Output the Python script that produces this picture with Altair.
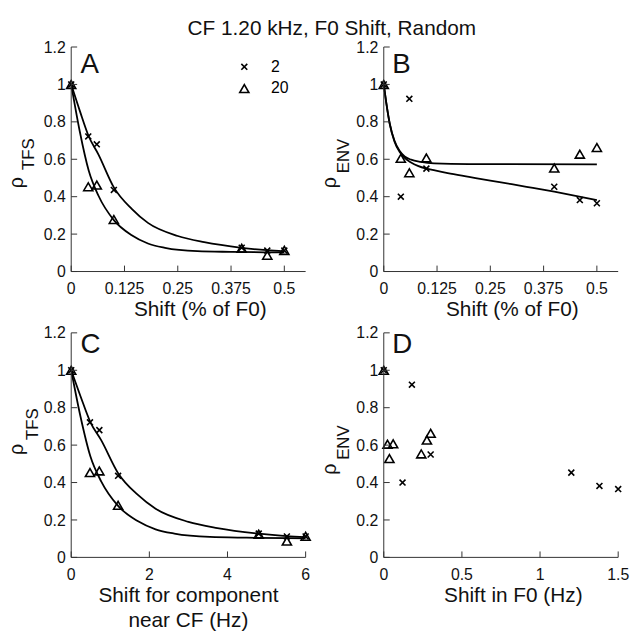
import altair as alt
import pandas as pd

FONT = "Liberation Sans"
SERIES = ["2", "20"]
XPATH = "M-1,-1L1,1M1,-1L-1,1"

# ---- data ----
shift_pct = [0, 0.04, 0.06, 0.1, 0.4, 0.46, 0.5]          # panels A, B (% of F0)
shift_cf_hz = [0, 0.48, 0.72, 1.2, 4.8, 5.52, 6]          # panel C (Hz)
shift_f0_2 = [0, 0.12, 0.18, 0.3, 1.2, 1.38, 1.5]          # panel D, series 2 (Hz)
shift_f0_20 = [0, 0.024, 0.036, 0.06, 0.24, 0.276, 0.3]    # panel D, series 20 (Hz)
rho_tfs_2 = [1, 0.722, 0.68, 0.436, 0.127, 0.112, 0.112]
rho_tfs_20 = [1, 0.453, 0.462, 0.278, 0.124, 0.087, 0.113]
rho_env_2 = [1, 0.40, 0.923, 0.55, 0.453, 0.382, 0.365]
rho_env_20 = [1, 0.605, 0.528, 0.607, 0.553, 0.627, 0.663]

# fitted curves
fit_tfs_2_x = [0, 0.02, 0.041, 0.064, 0.1, 0.142, 0.18, 0.25, 0.312, 0.4, 0.459, 0.5]
fit_tfs_2_hz = [0, 0.24, 0.49, 0.77, 1.2, 1.7, 2.16, 3.0, 3.74, 4.8, 5.51, 6]
fit_tfs_2_y = [1, 0.86, 0.723, 0.625, 0.45, 0.335, 0.26, 0.19, 0.157, 0.127, 0.114, 0.108]
fit_tfs_20_x = [0, 0.02, 0.041, 0.064, 0.1, 0.142, 0.18, 0.22, 0.296, 0.374, 0.5]
fit_tfs_20_hz = [0, 0.24, 0.49, 0.77, 1.2, 1.7, 2.16, 2.64, 3.55, 4.49, 6]
fit_tfs_20_y = [1, 0.75, 0.54, 0.405, 0.275, 0.194, 0.15, 0.127, 0.109, 0.105, 0.102]
fit_env_2_x = [0, 0.006, 0.014, 0.025, 0.037, 0.049, 0.064, 0.08, 0.1, 0.12, 0.15, 0.2, 0.25, 0.3, 0.35, 0.4, 0.45, 0.5]
fit_env_2_y = [1, 0.9, 0.79, 0.695, 0.64, 0.607, 0.583, 0.565, 0.55, 0.54, 0.526, 0.506, 0.486, 0.467, 0.447, 0.427, 0.405, 0.381]
fit_env_20_x = [0, 0.006, 0.014, 0.025, 0.037, 0.049, 0.064, 0.087, 0.118, 0.2, 0.5]
fit_env_20_y = [1, 0.9, 0.79, 0.70, 0.645, 0.615, 0.598, 0.586, 0.578, 0.574, 0.573]

# axis ticks and their labels
Y_TICKS = [0, 0.2, 0.4, 0.6, 0.8, 1, 1.2]
Y_LABELS = ["0", "0.2", "0.4", "0.6", "0.8", "1", "1.2"]
PCT_TICKS = [0, 0.125, 0.25, 0.375, 0.5]
PCT_LABELS = ["0", "0.125", "0.25", "0.375", "0.5"]
HZ_CF_TICKS = [0, 2, 4, 6]
HZ_CF_LABELS = ["0", "2", "4", "6"]
HZ_F0_TICKS = [0, 0.5, 1, 1.5]
HZ_F0_LABELS = ["0", "0.5", "1", "1.5"]
Y_DOMAIN = [0, 1.2]

W, H = 237, 227
TICK = 6
AX = "#333"
TXT = "#111"


def frame(x2, y2, x20, y20):
    return pd.DataFrame({
        "x": list(x2) + list(x20),
        "y": list(y2) + list(y20),
        "series": ["2"] * len(x2) + ["20"] * len(x20),
    })


LEG = alt.Legend(
    title=None, orient="none", legendX=167, legendY=12, padding=0,
    labelFont=FONT, labelFontSize=16, labelColor="black", labelOffset=19,
    rowPadding=6, symbolStrokeWidth=1.6, symbolStrokeColor="black",
)


def panel(pdf, cdf, xdom, xticks, xlabels, xtitle_lines, title_x, texts):
    xs = alt.Scale(domain=xdom, nice=False, zero=False)
    ys = alt.Scale(domain=Y_DOMAIN, nice=False)
    layers = [
        alt.Chart(pdf).mark_point(filled=False, color="black", strokeWidth=1.6, opacity=1).encode(
            x=alt.X("x:Q", scale=xs, axis=None),
            y=alt.Y("y:Q", scale=ys, axis=None),
            shape=alt.Shape("series:N", scale=alt.Scale(domain=SERIES, range=[XPATH, "triangle-up"]), legend=LEG),
            size=alt.Size("series:N", scale=alt.Scale(domain=SERIES, range=[36, 85]), legend=LEG),
        )
    ]
    if cdf is not None:
        layers.append(
            alt.Chart(cdf).mark_line(color="black", strokeWidth=1.8, interpolate="monotone").encode(
                x=alt.X("x:Q", scale=xs, axis=None),
                y=alt.Y("y:Q", scale=ys, axis=None),
                detail="series:N",
            )
        )
    # axis lines (span the scale domains)
    layers.append(
        alt.Chart(pd.DataFrame({"x": [xdom[0]], "x2": [xdom[1]]})).mark_rule(color=AX, strokeWidth=1).encode(
            x=alt.X("x:Q", scale=xs, axis=None), x2="x2:Q", y=alt.value(H)
        )
    )
    layers.append(
        alt.Chart(pd.DataFrame({"y": [Y_DOMAIN[0]], "y2": [Y_DOMAIN[1]]})).mark_rule(color=AX, strokeWidth=1).encode(
            y=alt.Y("y:Q", scale=ys, axis=None), y2="y2:Q", x=alt.value(0)
        )
    )
    # inward tick marks
    layers.append(
        alt.Chart(pd.DataFrame({"x": xticks})).mark_rule(color=AX, strokeWidth=1).encode(
            x=alt.X("x:Q", scale=xs, axis=None), y=alt.value(H), y2=alt.value(H - TICK)
        )
    )
    layers.append(
        alt.Chart(pd.DataFrame({"y": Y_TICKS})).mark_rule(color=AX, strokeWidth=1).encode(
            y=alt.Y("y:Q", scale=ys, axis=None), x=alt.value(0), x2=alt.value(TICK)
        )
    )
    # tick labels
    layers.append(
        alt.Chart(pd.DataFrame({"x": xticks, "label": xlabels})).mark_text(
            font=FONT, fontSize=16, color=TXT, align="center", baseline="alphabetic"
        ).encode(x=alt.X("x:Q", scale=xs, axis=None), y=alt.value(H + 22.5), text="label:N")
    )
    layers.append(
        alt.Chart(pd.DataFrame({"y": Y_TICKS, "label": Y_LABELS})).mark_text(
            font=FONT, fontSize=16, color=TXT, align="right", baseline="alphabetic", dy=5.7
        ).encode(y=alt.Y("y:Q", scale=ys, axis=None), x=alt.value(-5.5), text="label:N")
    )
    one = pd.DataFrame({"k": [0]})
    all_texts = list(texts)
    for i, line in enumerate(xtitle_lines):
        all_texts.append((line, title_x, H + 45 + 25 * i, 21, 0, "center"))
    for t in all_texts:
        txt, px, py, size, angle, align = t
        layers.append(
            alt.Chart(one).mark_text(
                text=txt, font=FONT, fontSize=size, angle=angle, align=align,
                baseline="alphabetic", color=TXT,
            ).encode(x=alt.value(px), y=alt.value(py))
        )
    return alt.layer(*layers).properties(width=W, height=H)


pts_A = frame(shift_pct, rho_tfs_2, shift_pct, rho_tfs_20)
fit_A = frame(fit_tfs_2_x, fit_tfs_2_y, fit_tfs_20_x, fit_tfs_20_y)
pts_B = frame(shift_pct, rho_env_2, shift_pct, rho_env_20)
fit_B = frame(fit_env_2_x, fit_env_2_y, fit_env_20_x, fit_env_20_y)
pts_C = frame(shift_cf_hz, rho_tfs_2, shift_cf_hz, rho_tfs_20)
fit_C = frame(fit_tfs_2_hz, fit_tfs_2_y, fit_tfs_20_hz, fit_tfs_20_y)
pts_D = frame(shift_f0_2, rho_env_2, shift_f0_20, rho_env_20)

A = panel(pts_A, fit_A, [0, 0.55], PCT_TICKS, PCT_LABELS, ["Shift (% of F0)"], 130.5, [
    ("CF 1.20 kHz, F0 Shift, Random", 263.5, -12, 21, 0, "center"),
    ("A", 9.5, 26, 28, 0, "left"),
    ("ρ", -49.2, 142.7, 20, 270, "left"),
    ("TFS", -37.2, 124.3, 17, 270, "left"),
])
B = panel(pts_B, fit_B, [0, 0.55], PCT_TICKS, PCT_LABELS, ["Shift (% of F0)"], 130, [
    ("B", 8.5, 26, 28, 0, "left"),
    ("ρ", -48.6, 142.7, 20, 270, "left"),
    ("ENV", -34.8, 127.7, 17, 270, "left"),
])
C = panel(pts_C, fit_C, [0, 6], HZ_CF_TICKS, HZ_CF_LABELS, ["Shift for component", "near CF (Hz)"], 118.5, [
    ("C", 9.5, 20, 28, 0, "left"),
    ("ρ", -49.2, 123.4, 20, 270, "left"),
    ("TFS", -33.8, 108.4, 17, 270, "left"),
])
D = panel(pts_D, None, [0, 1.5], HZ_F0_TICKS, HZ_F0_LABELS, ["Shift in F0 (Hz)"], 131, [
    ("D", 8.5, 20, 28, 0, "left"),
    ("ρ", -48.6, 143.4, 20, 270, "left"),
    ("ENV", -34.8, 128.4, 17, 270, "left"),
])

chart = alt.concat(A, B, C, D, columns=2, spacing={"row": 62, "column": 79}, bounds="flush").properties(
    padding={"left": 6, "top": 15, "right": 5, "bottom": 5}
).configure_view(stroke=None)

chart.save("out.html", embed_options={"renderer": "svg", "actions": False})
